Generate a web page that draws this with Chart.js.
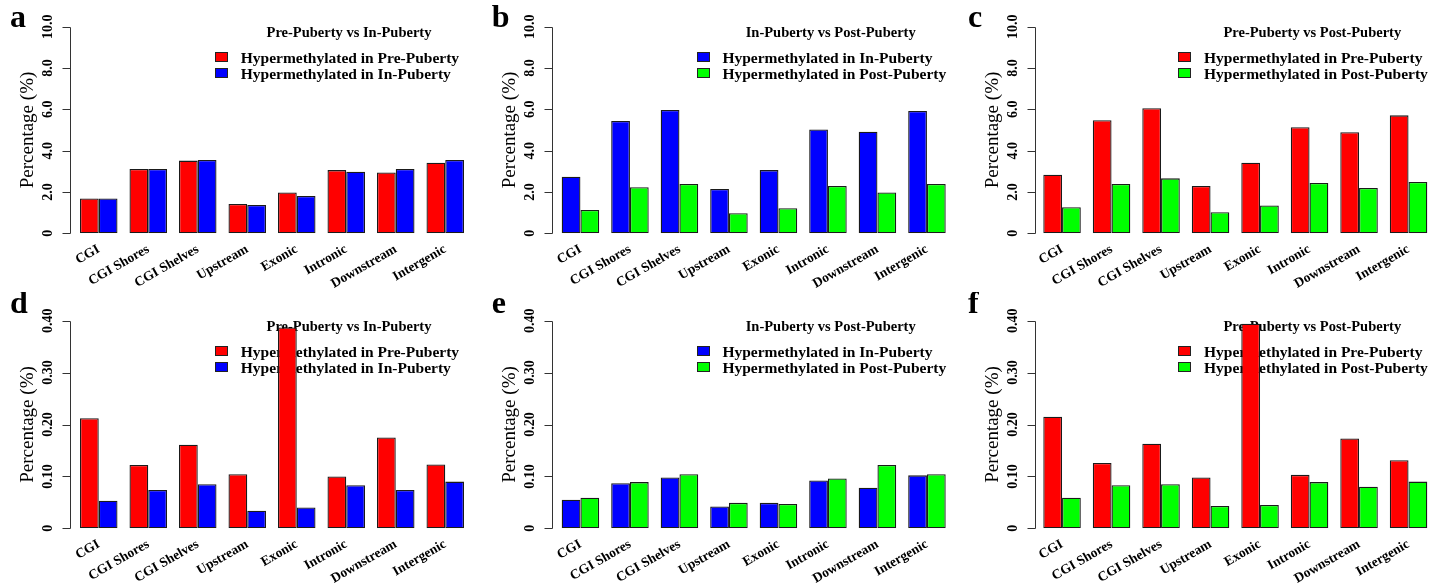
<!DOCTYPE html>
<html>
<head>
<meta charset="utf-8">
<script src="https://cdn.jsdelivr.net/npm/chart.js@4.4.0/dist/chart.umd.min.js"></script>
<style>
  body { margin: 0; background: #fff; width: 1444px; height: 585px; position: relative; overflow: hidden; }
  canvas { position: absolute; }
</style>
</head>
<body>
<canvas id="pa"></canvas><canvas id="pb"></canvas><canvas id="pc"></canvas>
<canvas id="pd"></canvas><canvas id="pe"></canvas><canvas id="pf"></canvas>
<script>
// categories & tick labels
const categories = ['CGI', 'CGI Shores', 'CGI Shelves', 'Upstream', 'Exonic', 'Intronic', 'Downstream', 'Intergenic'];
const topTicks = [0, 2, 4, 6, 8, 10];
const topTickLabels = ['0', '2.0', '4.0', '6.0', '8.0', '10.0'];
const bottomTicks = [0, 0.1, 0.2, 0.3, 0.4];
const bottomTickLabels = ['0', '0.10', '0.20', '0.30', '0.40'];

// series values (%)
const aPre  = [1.69, 3.11, 3.52, 1.42, 1.98, 3.06, 2.94, 3.42];
const aIn   = [1.69, 3.11, 3.55, 1.37, 1.81, 2.98, 3.11, 3.55];
const bIn   = [2.74, 5.44, 5.97, 2.15, 3.06, 5.03, 4.92, 5.92];
const bPost = [1.13, 2.23, 2.39, 0.97, 1.21, 2.29, 1.98, 2.39];
const cPre  = [2.84, 5.47, 6.05, 2.29, 3.42, 5.13, 4.89, 5.71];
const cPost = [1.26, 2.39, 2.66, 1.02, 1.35, 2.44, 2.19, 2.48];
const dPre  = [0.212, 0.122, 0.161, 0.104, 0.387, 0.100, 0.175, 0.123];
const dIn   = [0.053, 0.074, 0.085, 0.034, 0.040, 0.083, 0.074, 0.090];
const eIn   = [0.055, 0.087, 0.098, 0.042, 0.049, 0.092, 0.078, 0.102];
const ePost = [0.059, 0.089, 0.104, 0.049, 0.047, 0.096, 0.122, 0.104];
const fPre  = [0.215, 0.126, 0.163, 0.098, 0.394, 0.103, 0.173, 0.131];
const fPost = [0.059, 0.083, 0.085, 0.043, 0.045, 0.089, 0.080, 0.090];

const RED = '#ff0000', BLUE = '#0000ff', GREEN = '#00ff00';
const FONT = '"Liberation Serif", "Times New Roman", serif';

const cols = [
  { left: 0,   w: 480, padL: 74,   padR: 10,   gap: 4,   letterX: 10 },
  { left: 480, w: 480, padL: 75.7, padR: 8.3,  gap: 4,   letterX: 11.7 },
  { left: 960, w: 484, padL: 77.3, padR: 10.7, gap: 2.7, letterX: 8 }
];
const rows = [
  { top: 0,   h: 292, padT: 26.7, xh: 58.7, letterY: 27 },
  { top: 292, h: 293, padT: 28.7, xh: 56.7, letterY: 21 }
];

// R-style legend, axis and panel letter
const rStyle = {
  id: 'rStyle',
  beforeDatasetsDraw(chart, args, opts) {
    const ctx = chart.ctx, area = chart.chartArea;
    ctx.save();
    ctx.fillStyle = '#000';
    ctx.textBaseline = 'middle';
    ctx.textAlign = 'center';
    ctx.font = 'bold 14.5px ' + FONT;
    ctx.fillText(opts.title, area.left + 275, area.top + 7);
    ctx.font = 'bold 15.5px ' + FONT;
    ctx.textAlign = 'left';
    chart.data.datasets.forEach((ds, i) => {
      const y = Math.round(area.top + 31.5 + i * 16);
      const bx = Math.round(area.left + 141);
      ctx.fillStyle = ds.backgroundColor;
      ctx.fillRect(bx, y - 6, 13, 10);
      ctx.strokeStyle = '#222';
      ctx.lineWidth = 1;
      ctx.strokeRect(bx + 0.5, y - 5.5, 12, 9);
      ctx.fillStyle = '#000';
      ctx.fillText(ds.label, area.left + 166.7, y + 1);
    });
    ctx.restore();
  },
  afterDraw(chart, args, opts) {
    const ctx = chart.ctx, area = chart.chartArea, ys = chart.scales.y;
    const ax = Math.round(area.left - opts.gap) + 0.5;
    ctx.save();
    ctx.strokeStyle = '#333';
    ctx.lineWidth = 1;
    ctx.beginPath();
    ctx.moveTo(ax, Math.round(ys.getPixelForValue(opts.ticks[0])) + 0.5);
    ctx.lineTo(ax, Math.round(ys.getPixelForValue(opts.ticks[opts.ticks.length - 1])) + 0.5);
    opts.ticks.forEach(v => {
      const py = Math.round(ys.getPixelForValue(v)) + 0.5;
      ctx.moveTo(ax, py);
      ctx.lineTo(ax - 8, py);
    });
    ctx.stroke();
    ctx.fillStyle = '#000';
    ctx.textAlign = 'center';
    ctx.textBaseline = 'middle';
    ctx.font = 'bold 14px ' + FONT;
    opts.ticks.forEach((v, i) => {
      ctx.save();
      ctx.translate(ax - 22, ys.getPixelForValue(v));
      ctx.rotate(-Math.PI / 2);
      ctx.fillText(opts.tickLabels[i], 0, 0);
      ctx.restore();
    });
    ctx.save();
    ctx.font = '19px ' + FONT;
    ctx.translate(ax - 42, (area.top + area.bottom) / 2);
    ctx.rotate(-Math.PI / 2);
    ctx.fillText('Percentage (%)', 0, 0);
    ctx.restore();
    ctx.font = 'bold 32px ' + FONT;
    ctx.textAlign = 'left';
    ctx.textBaseline = 'alphabetic';
    ctx.fillText(opts.letter, opts.letterX, opts.letterY);
    ctx.restore();
  }
};

function makePanel(id, col, row, letter, title, series, yMax, ticks, tickLabels) {
  const c = cols[col], r = rows[row];
  const cv = document.getElementById(id);
  cv.width = c.w; cv.height = r.h;
  cv.style.left = c.left + 'px'; cv.style.top = r.top + 'px';
  new Chart(cv.getContext('2d'), {
    type: 'bar',
    data: {
      labels: categories,
      datasets: series.map(s => ({
        label: s.label,
        data: s.data,
        backgroundColor: s.color,
        borderColor: '#1a1a1a',
        borderWidth: 1.3,
        borderSkipped: false,
        categoryPercentage: 0.758,
        barPercentage: 1.0
      }))
    },
    options: {
      responsive: false,
      animation: false,
      layout: { padding: { left: c.padL, right: c.padR, top: r.padT, bottom: 0 } },
      plugins: {
        legend: { display: false },
        tooltip: { enabled: false },
        rStyle: { title, letter, letterX: c.letterX, letterY: r.letterY, gap: c.gap, ticks, tickLabels }
      },
      scales: {
        x: {
          grid: { display: false, drawTicks: false },
          border: { display: false },
          afterFit: s => { s.height = r.xh; },
          ticks: {
            autoSkip: false,
            minRotation: 30,
            maxRotation: 30,
            padding: 8,
            color: '#000',
            font: { family: FONT, size: 13.5, weight: 'bold' }
          }
        },
        y: { display: false, min: 0, max: yMax }
      }
    },
    plugins: [rStyle]
  });
}

const PRE = 'Hypermethylated in Pre-Puberty';
const IN = 'Hypermethylated in In-Puberty';
const POST = 'Hypermethylated in Post-Puberty';

makePanel('pa', 0, 0, 'a', 'Pre-Puberty vs In-Puberty',
  [{ label: PRE, data: aPre, color: RED }, { label: IN, data: aIn, color: BLUE }], 10, topTicks, topTickLabels);
makePanel('pb', 1, 0, 'b', 'In-Puberty vs Post-Puberty',
  [{ label: IN, data: bIn, color: BLUE }, { label: POST, data: bPost, color: GREEN }], 10, topTicks, topTickLabels);
makePanel('pc', 2, 0, 'c', 'Pre-Puberty vs Post-Puberty',
  [{ label: PRE, data: cPre, color: RED }, { label: POST, data: cPost, color: GREEN }], 10, topTicks, topTickLabels);
makePanel('pd', 0, 1, 'd', 'Pre-Puberty vs In-Puberty',
  [{ label: PRE, data: dPre, color: RED }, { label: IN, data: dIn, color: BLUE }], 0.4, bottomTicks, bottomTickLabels);
makePanel('pe', 1, 1, 'e', 'In-Puberty vs Post-Puberty',
  [{ label: IN, data: eIn, color: BLUE }, { label: POST, data: ePost, color: GREEN }], 0.4, bottomTicks, bottomTickLabels);
makePanel('pf', 2, 1, 'f', 'Pre-Puberty vs Post-Puberty',
  [{ label: PRE, data: fPre, color: RED }, { label: POST, data: fPost, color: GREEN }], 0.4, bottomTicks, bottomTickLabels);
</script>
</body>
</html>
